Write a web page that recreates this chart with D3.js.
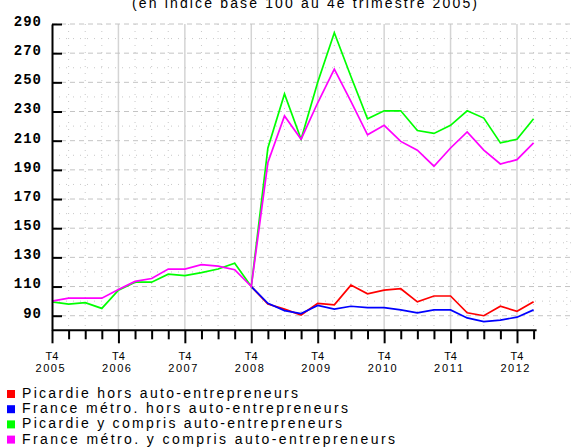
<!DOCTYPE html>
<html>
<head>
<meta charset="utf-8">
<script src="https://cdn.jsdelivr.net/npm/d3@7"></script>
<style>
  body { margin: 0; background: #fff; }
  svg { display: block; }
</style>
</head>
<body>
<div id="chart"></div>
<script>
var W = 573, H = 448

// quarters, T4 2005 .. T1 2013
var quarters = ["T4 2005", "T1 2006", "T2 2006", "T3 2006", "T4 2006", "T1 2007", "T2 2007", "T3 2007",
    "T4 2007", "T1 2008", "T2 2008", "T3 2008", "T4 2008", "T1 2009", "T2 2009", "T3 2009",
    "T4 2009", "T1 2010", "T2 2010", "T3 2010", "T4 2010", "T1 2011", "T2 2011", "T3 2011",
    "T4 2011", "T1 2012", "T2 2012", "T3 2012", "T4 2012", "T1 2013"]

// index, base 100 in T4 2005
var picardieHors = [null, null, null, null, null, null, null, null, null, null, null, null,
    110, 98, 94.5, 90.5, 98.5, 97.5, 111, 105, 107.5, 108.5, 99.5, 103.5, 103.5, 92, 90, 96.5, 93, 99.5]
var franceHors = [null, null, null, null, null, null, null, null, null, null, null, null,
    110, 98.5, 93.5, 91.5, 97, 94.5, 96.5, 95.5, 95.5, 94, 92, 94, 94, 88.5, 86, 87, 89, 94]
var picardieAvec = [99.5, 98, 99, 95, 107.5, 113, 113, 118.5, 117.5, 119.5, 122, 126,
    110, 205, 242, 211, 250, 284, 254, 225, 230.5, 230.5, 217, 215, 220.5, 230.5, 225.5, 208.5, 211, 225]
var franceAvec = [100, 102, 102, 102, 108, 113.5, 115.5, 122, 122, 125, 124, 121.5,
    110, 195, 227, 211, 236, 259, 237, 214, 220.5, 209.5, 203.5, 192.5, 205, 216, 203.5, 194, 197, 208.5]

var seriesNames = ["Picardie hors auto-entrepreneurs", "France métro. hors auto-entrepreneurs",
    "Picardie y compris auto-entrepreneurs", "France métro. y compris auto-entrepreneurs"]
var seriesColors = ["#ff0000", "#0000ff", "#00ff00", "#ff00ff"]
var seriesData = [picardieHors, franceHors, picardieAvec, franceAvec]
var legendWidths = [276, 326, 320, 373]

var yTicks = [90, 110, 130, 150, 170, 190, 210, 230, 250, 270, 290]

var titleText = "(en indice base 100 au 4e trimestre 2005)"

// scales
var x = d3.scaleLinear().domain([0, quarters.length - 1]).range([52, 533.6])
var y = d3.scaleLinear().domain([80, 290]).range([330.3, 24])

var svg = d3.select("#chart").append("svg")
    .attr("width", W)
    .attr("height", H)

// title, cut at the top like the original
svg.append("text")
    .attr("x", 304.5)
    .attr("y", 8)
    .attr("text-anchor", "middle")
    .attr("font-family", "Liberation Sans, Arial, sans-serif")
    .attr("font-size", "14px")
    .attr("textLength", 345)
    .attr("lengthAdjust", "spacing")
    .attr("fill", "#000")
    .text(titleText)

// grid
var gridG = svg.append("g")
var step = x(1) - x(0)
for (var i = 1; x(0) + i * step < W; i++) {
    var gx = x(0) + i * step
    gridG.append("line")
        .attr("x1", gx).attr("x2", gx)
        .attr("y1", y(290)).attr("y2", y(80))
        .attr("stroke", i % 4 == 0 ? "#d4d4d4" : "#c8c8c8")
        .attr("stroke-width", i % 4 == 0 ? 1.5 : 1)
        .attr("stroke-dasharray", i % 4 == 0 ? null : "1,6")
}
for (var v = 90; v <= 290; v += 10) {
    var major = (v - 90) % 20 == 0
    gridG.append("line")
        .attr("x1", x(0)).attr("x2", W)
        .attr("y1", y(v)).attr("y2", y(v))
        .attr("stroke", major ? "#c4c4c4" : "#c8c8c8")
        .attr("stroke-width", 1)
        .attr("stroke-dasharray", major ? "5,4" : "1,6")
}

// lines
var line = d3.line()
    .defined(function(d) { return d != null })
    .x(function(d, i) { return x(i) })
    .y(function(d) { return y(d) })

svg.append("g").selectAll(".serie")
    .data(seriesData)
    .enter()
    .append("path")
    .attr("class", "serie")
    .attr("fill", "none")
    .attr("stroke", function(d, i) { return seriesColors[i] })
    .attr("stroke-width", 1.7)
    .attr("d", line)

// y axis, ticks pointing inside
var yAxis = d3.axisLeft(y).tickValues(yTicks).tickSize(-10).tickSizeOuter(0).tickPadding(10)
var yG = svg.append("g")
    .attr("transform", "translate(" + x(0) + ",0)")
    .call(yAxis)
yG.select(".domain").attr("stroke", "#000").attr("stroke-width", 2)
yG.selectAll(".tick line").attr("stroke", "#000").attr("stroke-width", 2)
yG.selectAll(".tick text")
    .attr("dy", "0.1em")
    .attr("font-family", "Liberation Mono, DejaVu Sans Mono, monospace")
    .attr("font-weight", "bold")
    .attr("font-size", "14px")
    .attr("letter-spacing", "1px")
    .attr("fill", "#000")

// x axis, one tick per quarter, label on T4
var xAxis = d3.axisBottom(x).tickValues(d3.range(quarters.length)).tickSize(9).tickSizeOuter(0).tickFormat("")
var xG = svg.append("g")
    .attr("transform", "translate(0," + y(80) + ")")
    .call(xAxis)
xG.select(".domain").attr("stroke", "#000").attr("stroke-width", 2)
    .attr("d", "M" + x(0) + ",0H" + (x(quarters.length - 1) + 3))
xG.selectAll(".tick line").attr("stroke", "#000").attr("stroke-width", 2)
    .attr("y2", function(d) { return d % 4 == 0 ? 13 : 9 })
xG.selectAll(".tick text").remove()

var labG = svg.append("g")
    .attr("font-family", "Liberation Sans, Arial, sans-serif")
    .attr("font-size", "11px")
    .attr("fill", "#000")
quarters.forEach(function(q, i) {
    if (i % 4 != 0) return
    var parts = q.split(" ")
    labG.append("text")
        .attr("x", x(i))
        .attr("y", 360)
        .attr("text-anchor", "middle")
        .text(parts[0])
    labG.append("text")
        .attr("x", x(i) - 2)
        .attr("y", 372)
        .attr("text-anchor", "middle")
        .attr("textLength", 29)
        .attr("lengthAdjust", "spacing")
        .text(parts[1])
})

// legend
var legG = svg.append("g")
var legRows = legG.selectAll(".leg")
    .data(seriesNames)
    .enter()
    .append("g")
    .attr("class", "leg")
    .attr("transform", function(d, i) { return "translate(0," + (398 + i * 15.2) + ")" })

legRows.append("rect")
    .attr("x", 7)
    .attr("y", -8)
    .attr("width", 8)
    .attr("height", 8)
    .attr("fill", function(d, i) { return seriesColors[i] })

legRows.append("text")
    .attr("x", 22)
    .attr("y", 0)
    .attr("font-family", "Liberation Sans, Arial, sans-serif")
    .attr("font-size", "14px")
    .attr("textLength", function(d, i) { return legendWidths[i] })
    .attr("lengthAdjust", "spacing")
    .attr("fill", "#000")
    .text(function(d) { return d })
</script>
</body>
</html>
